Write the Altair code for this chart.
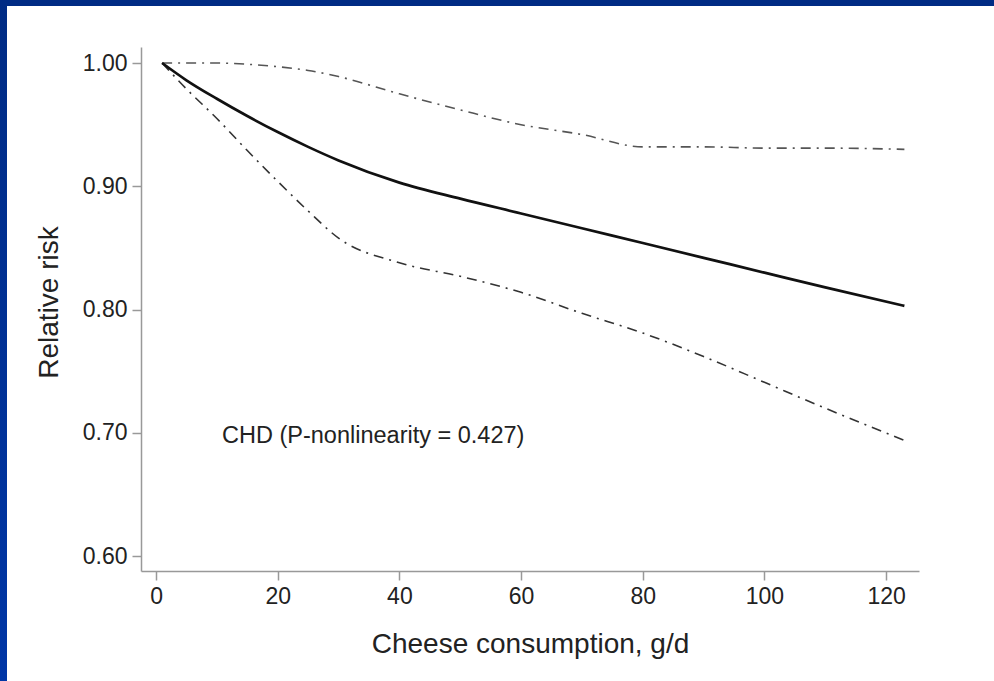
import altair as alt
import pandas as pd

# Cheese intake (g/d) and the dose-response estimate with its 95% CI
intake = [1, 5, 10, 15, 20, 25, 30, 40, 50, 60, 70, 80, 90, 100, 110, 123]
rr = [1.000, 0.986, 0.971, 0.957, 0.944, 0.932, 0.921, 0.903, 0.890, 0.878,
      0.866, 0.854, 0.842, 0.830, 0.818, 0.803]
rr_upper = [1.000, 1.000, 1.000, 0.999, 0.997, 0.994, 0.989, 0.975, 0.962, 0.950,
            0.942, 0.932, 0.932, 0.931, 0.931, 0.930]
rr_lower = [1.000, 0.979, 0.955, 0.929, 0.904, 0.880, 0.858, 0.838, 0.827, 0.814,
            0.797, 0.781, 0.762, 0.741, 0.720, 0.694]

x_ticks = [0, 20, 40, 60, 80, 100, 120]
y_ticks = [0.60, 0.70, 0.80, 0.90, 1.00]

FONT = "Liberation Sans"
FRAME_BLUE = "#002B84"

df = pd.DataFrame({"x": intake, "rr": rr, "lo": rr_lower, "hi": rr_upper})

x_enc = alt.X(
    "x:Q",
    scale=alt.Scale(domain=[-2.47, 125.4], nice=False, zero=False),
    axis=alt.Axis(
        values=x_ticks, title="Cheese consumption, g/d", grid=False,
        domainColor="#999999", domainWidth=1.5, tickColor="#999999", tickWidth=1.5,
        tickSize=9, labelFontSize=23, labelColor="#222222", labelPadding=5,
        labelFont=FONT, titleFont=FONT, titleFontSize=28, titleFontWeight="normal",
        titleColor="#222222", titleBaseline="alphabetic", titleY=81,
    ),
)
y_scale = alt.Scale(domain=[0.588, 1.013], nice=False, zero=False)
y_enc = alt.Y(
    "rr:Q",
    scale=y_scale,
    axis=alt.Axis(
        values=y_ticks, format=".2f", title="Relative risk", grid=False,
        domainColor="#999999", domainWidth=1.5, tickColor="#999999", tickWidth=1.5,
        tickSize=9, labelFontSize=23, labelColor="#222222", labelPadding=5,
        labelFont=FONT, titleFont=FONT, titleFontSize=28, titleFontWeight="normal",
        titleColor="#222222", titleBaseline="alphabetic", titleX=-84, titleY=255,
        titleAngle=270,
    ),
)

base = alt.Chart(df)

main = base.mark_line(color="#111111", strokeWidth=2.7, interpolate="monotone").encode(
    x=x_enc, y=y_enc
)
upper = base.mark_line(
    color="#555555", strokeWidth=1.6, strokeDash=[10, 6, 2, 6], interpolate="monotone"
).encode(x="x:Q", y=alt.Y("hi:Q", scale=y_scale))
lower = base.mark_line(
    color="#333333", strokeWidth=1.6, strokeDash=[10, 6, 2, 6], interpolate="monotone"
).encode(x="x:Q", y=alt.Y("lo:Q", scale=y_scale))

label = alt.Chart(pd.DataFrame({"t": ["CHD (P-nonlinearity = 0.427)"]})).mark_text(
    align="left", baseline="alphabetic", font=FONT, fontSize=23.5, color="#222222"
).encode(text="t:N", x=alt.value(81), y=alt.value(396))

# slide frame: blue bands along the top and left edges
frame_top = alt.Chart(pd.DataFrame({"k": [0]})).mark_rect(color=FRAME_BLUE).encode(
    x=alt.value(-141), x2=alt.value(853), y=alt.value(-47), y2=alt.value(-41)
)
frame_left = alt.Chart(pd.DataFrame({"k": [0]})).mark_rect(
    color=alt.Gradient(
        gradient="linear", x1=0, y1=0, x2=0, y2=1,
        stops=[alt.GradientStop(color=FRAME_BLUE, offset=0),
               alt.GradientStop(color="#0036A6", offset=1)],
    )
).encode(x=alt.value(-141), x2=alt.value(-134), y=alt.value(-47), y2=alt.value(634))

chart = (
    alt.layer(frame_top, frame_left, lower, upper, main, label)
    .properties(
        width=778, height=524,
        autosize=alt.AutoSizeParams(type="none"),
        padding={"left": 141, "top": 47, "right": 75, "bottom": 110},
        background="white",
    )
    .configure_view(stroke=None)
)

chart.save("out.html", embed_options={"renderer": "svg", "actions": False})
